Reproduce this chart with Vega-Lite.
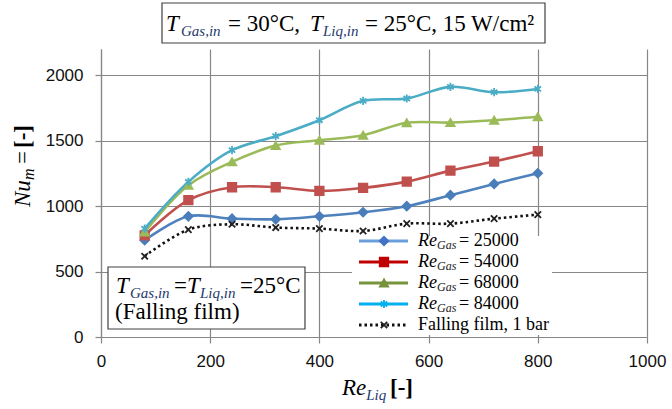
{
  "$schema": "https://vega.github.io/schema/vega-lite/v6.json",
  "width": 546,
  "height": 288,
  "autosize": {"type": "none"},
  "padding": {"left": 101, "top": 49, "right": 25, "bottom": 72},
  "background": "white",
  "config": {"view": {"stroke": null}, "text": {"font": "Liberation Serif"}},
  "datasets": {
    "series": [
      {"s": "a", "x": 80, "y": 739}, {"s": "a", "x": 160, "y": 922}, {"s": "a", "x": 240, "y": 904}, {"s": "a", "x": 320, "y": 899}, {"s": "a", "x": 400, "y": 922},
      {"s": "a", "x": 480, "y": 953}, {"s": "a", "x": 560, "y": 999}, {"s": "a", "x": 640, "y": 1083}, {"s": "a", "x": 720, "y": 1169}, {"s": "a", "x": 800, "y": 1251},
      {"s": "b", "x": 80, "y": 777}, {"s": "b", "x": 160, "y": 1045}, {"s": "b", "x": 240, "y": 1144}, {"s": "b", "x": 320, "y": 1144}, {"s": "b", "x": 400, "y": 1116},
      {"s": "b", "x": 480, "y": 1139}, {"s": "b", "x": 560, "y": 1187}, {"s": "b", "x": 640, "y": 1271}, {"s": "b", "x": 720, "y": 1340}, {"s": "b", "x": 800, "y": 1419},
      {"s": "c", "x": 80, "y": 803}, {"s": "c", "x": 160, "y": 1159}, {"s": "c", "x": 240, "y": 1338}, {"s": "c", "x": 320, "y": 1462}, {"s": "c", "x": 400, "y": 1503},
      {"s": "c", "x": 480, "y": 1541}, {"s": "c", "x": 560, "y": 1636}, {"s": "c", "x": 640, "y": 1638}, {"s": "c", "x": 720, "y": 1656}, {"s": "c", "x": 800, "y": 1682},
      {"s": "d", "x": 80, "y": 828}, {"s": "d", "x": 160, "y": 1185}, {"s": "d", "x": 240, "y": 1427}, {"s": "d", "x": 320, "y": 1534}, {"s": "d", "x": 400, "y": 1656},
      {"s": "d", "x": 480, "y": 1804}, {"s": "d", "x": 560, "y": 1822}, {"s": "d", "x": 640, "y": 1911}, {"s": "d", "x": 720, "y": 1870}, {"s": "d", "x": 800, "y": 1895},
      {"s": "f", "x": 80, "y": 617}, {"s": "f", "x": 160, "y": 820}, {"s": "f", "x": 240, "y": 861}, {"s": "f", "x": 320, "y": 836}, {"s": "f", "x": 400, "y": 828},
      {"s": "f", "x": 480, "y": 810}, {"s": "f", "x": 560, "y": 866}, {"s": "f", "x": 640, "y": 866}, {"s": "f", "x": 720, "y": 904}, {"s": "f", "x": 800, "y": 935}
    ],
    "boxes": [
      {"x": 111.7, "x2": 813.2, "y": 2246, "y2": 2551.5},
      {"x": 12.8, "x2": 373.6, "y": 61.1, "y2": 534.7}
    ],
    "legbg": [{"x": 459.7, "x2": 826, "y": 15, "y2": 771.6}],
    "legl": [
      {"s": "a", "x": 472.5, "x2": 562.3, "y": 733.3},
      {"s": "b", "x": 472.5, "x2": 562.3, "y": 572.9},
      {"s": "c", "x": 472.5, "x2": 562.3, "y": 412.5},
      {"s": "d", "x": 472.5, "x2": 562.3, "y": 252.1},
      {"s": "f", "x": 472.5, "x2": 562.3, "y": 91.7}
    ],
    "legm": [
      {"s": "a", "x": 518.3, "y": 733.3},
      {"s": "b", "x": 518.3, "y": 572.9},
      {"s": "c", "x": 518.3, "y": 412.5},
      {"s": "d", "x": 518.3, "y": 252.1},
      {"s": "f", "x": 518.3, "y": 91.7}
    ],
    "legit": [
      {"x": 580.6, "y": 733.3, "t": "Re"},
      {"x": 580.6, "y": 572.9, "t": "Re"},
      {"x": 580.6, "y": 412.5, "t": "Re"},
      {"x": 580.6, "y": 252.1, "t": "Re"}
    ],
    "legsub": [
      {"x": 615.4, "y": 702.7, "t": "Gas"},
      {"x": 615.4, "y": 542.3, "t": "Gas"},
      {"x": 615.4, "y": 381.9, "t": "Gas"},
      {"x": 615.4, "y": 221.5, "t": "Gas"}
    ],
    "legrm": [
      {"x": 655.7, "y": 733.3, "t": "= 25000"},
      {"x": 655.7, "y": 572.9, "t": "= 54000"},
      {"x": 655.7, "y": 412.5, "t": "= 68000"},
      {"x": 655.7, "y": 252.1, "t": "= 84000"},
      {"x": 580.6, "y": 91.7, "t": "Falling film, 1 bar"}
    ],
    "it23": [
      {"x": 119.0, "y": 2337.5, "t": "T"},
      {"x": 382.8, "y": 2337.5, "t": "T"},
      {"x": 27.5, "y": 336.1, "t": "T"},
      {"x": 157.5, "y": 336.1, "t": "T"},
      {"x": 441.4, "y": -443.1, "t": "Re"}
    ],
    "sub16": [
      {"x": 146.5, "y": 2299.3, "t": "Gas,in"},
      {"x": 406.6, "y": 2299.3, "t": "Liq,in"},
      {"x": 53.1, "y": 297.9, "t": "Gas,in"},
      {"x": 181.3, "y": 297.9, "t": "Liq,in"},
      {"x": 485.7, "y": -481.3, "t": "Liq"}
    ],
    "rm23": [
      {"x": 232.6, "y": 2337.5, "t": "= 30°C,"},
      {"x": 483.5, "y": 2337.5, "t": "= 25°C, 15 W/cm²"},
      {"x": 133.7, "y": 336.1, "t": "="},
      {"x": 254.6, "y": 336.1, "t": "=25°C"},
      {"x": 25.6, "y": 137.5, "t": "(Falling film)"}
    ],
    "bd23": [{"x": 529.3, "y": -443.1, "t": "[-]"}],
    "yit": [{"x": -129.9, "y": 993.1, "t": "Nu"}],
    "ysub": [{"x": -122.7, "y": 1199.3, "t": "m"}],
    "yrm": [{"x": -129.9, "y": 1321.5, "t": "="}],
    "ybd": [{"x": -129.9, "y": 1443.8, "t": "[-]"}]
  },
  "encoding": {
    "x": {
      "field": "x", "type": "quantitative",
      "scale": {"domain": [0, 1000], "nice": false, "zero": false},
      "axis": {
        "title": null, "values": [0, 200, 400, 600, 800, 1000], "format": "d",
        "grid": true, "gridColor": "#878787", "gridWidth": 1.2,
        "domainColor": "#878787", "domainWidth": 1.2,
        "tickColor": "#878787", "tickWidth": 1.2, "tickSize": 6,
        "labelFont": "Liberation Sans", "labelFontSize": 17, "labelColor": "#111111",
        "labelPadding": 10, "labelFlush": false
      }
    },
    "y": {
      "field": "y", "type": "quantitative",
      "scale": {"domain": [0, 2200], "nice": false, "zero": false},
      "axis": {
        "title": null, "values": [0, 500, 1000, 1500, 2000], "format": "d",
        "grid": true, "gridColor": "#878787", "gridWidth": 1.2,
        "domainColor": "#878787", "domainWidth": 1.2,
        "tickColor": "#878787", "tickWidth": 1.2, "tickSize": 6,
        "labelFont": "Liberation Sans", "labelFontSize": 17, "labelColor": "#111111",
        "labelPadding": 12, "labelFlush": false
      }
    }
  },
  "layer": [
    {
      "data": {"name": "legbg"},
      "mark": {"type": "rect", "fill": "white", "stroke": null},
      "encoding": {"x2": {"field": "x2"}, "y2": {"field": "y2"}}
    },
    {
      "data": {"name": "boxes"},
      "mark": {"type": "rect", "fill": "white", "stroke": "#404040", "strokeWidth": 1.2},
      "encoding": {"x2": {"field": "x2"}, "y2": {"field": "y2"}}
    },
    {
      "data": {"name": "series"},
      "transform": [{"filter": "datum.s != 'f'"}],
      "mark": {"type": "line", "interpolate": "catmull-rom", "strokeWidth": 2.6},
      "encoding": {
        "color": {"field": "s", "type": "nominal", "legend": null,
          "scale": {"domain": ["a", "b", "c", "d"], "range": ["#4F81BD", "#C0504D", "#9BBB59", "#4BACC6"]}}
      }
    },
    {
      "data": {"name": "series"},
      "transform": [{"filter": "datum.s == 'f'"}],
      "mark": {"type": "line", "interpolate": "catmull-rom", "strokeWidth": 2.6, "strokeDash": [2.5, 3], "color": "#111111"},
      "encoding": {}
    },
    {
      "data": {"name": "series"},
      "mark": {"type": "point", "filled": true, "strokeWidth": 1.8, "opacity": 1},
      "encoding": {
        "fill": {"field": "s", "type": "nominal", "legend": null,
          "scale": {"domain": ["a", "b", "c", "d", "f"], "range": ["#4A7EBB", "#C0504D", "#9BBB59", "#4BACC6", "#222222"]}},
        "stroke": {"field": "s", "type": "nominal", "legend": null,
          "scale": {"domain": ["a", "b", "c", "d", "f"], "range": ["#4A7EBB", "#C0504D", "#9BBB59", "#4BACC6", "#222222"]}},
        "shape": {"field": "s", "type": "nominal", "legend": null,
          "scale": {"domain": ["a", "b", "c", "d", "f"], "range": ["diamond", "square", "triangle-up", "M0,-1L0,1M-0.8,-0.6L0.8,0.6M-0.8,0.6L0.8,-0.6", "M-0.8,-0.8L0.8,0.8M-0.8,0.8L0.8,-0.8"]}},
        "size": {"field": "s", "type": "nominal", "legend": null,
          "scale": {"domain": ["a", "b", "c", "d", "f"], "range": [75, 64, 90, 150, 100]}}
      }
    },
    {
      "data": {"name": "legl"},
      "transform": [{"filter": "datum.s != 'f'"}],
      "mark": {"type": "rule", "strokeWidth": 3},
      "encoding": {
        "x2": {"field": "x2"},
        "color": {"field": "s", "type": "nominal", "legend": null,
          "scale": {"domain": ["a", "b", "c", "d"], "range": ["#6A9FDC", "#C00000", "#77933C", "#00B0F0"]}}
      }
    },
    {
      "data": {"name": "legl"},
      "transform": [{"filter": "datum.s == 'f'"}],
      "mark": {"type": "rule", "strokeWidth": 3, "strokeDash": [2.5, 3], "color": "#111111"},
      "encoding": {"x2": {"field": "x2"}}
    },
    {
      "data": {"name": "legm"},
      "mark": {"type": "point", "filled": true, "strokeWidth": 1.8, "opacity": 1},
      "encoding": {
        "fill": {"field": "s", "type": "nominal", "legend": null,
          "scale": {"domain": ["a", "b", "c", "d", "f"], "range": ["#4472C4", "#C00000", "#77933C", "#00B0F0", "#222222"]}},
        "stroke": {"field": "s", "type": "nominal", "legend": null,
          "scale": {"domain": ["a", "b", "c", "d", "f"], "range": ["#4472C4", "#C00000", "#77933C", "#00B0F0", "#222222"]}},
        "shape": {"field": "s", "type": "nominal", "legend": null,
          "scale": {"domain": ["a", "b", "c", "d", "f"], "range": ["diamond", "square", "triangle-up", "M0,-1L0,1M-0.8,-0.6L0.8,0.6M-0.8,0.6L0.8,-0.6", "M-0.8,-0.8L0.8,0.8M-0.8,0.8L0.8,-0.8"]}},
        "size": {"field": "s", "type": "nominal", "legend": null,
          "scale": {"domain": ["a", "b", "c", "d", "f"], "range": [75, 64, 90, 150, 100]}}
      }
    },
    {
      "data": {"name": "legit"},
      "mark": {"type": "text", "font": "Liberation Serif", "fontSize": 18, "fontStyle": "italic", "align": "left", "baseline": "middle", "color": "#000000"},
      "encoding": {"text": {"field": "t"}}
    },
    {
      "data": {"name": "legsub"},
      "mark": {"type": "text", "font": "Liberation Serif", "fontSize": 12, "fontStyle": "italic", "align": "left", "baseline": "middle", "color": "#222222"},
      "encoding": {"text": {"field": "t"}}
    },
    {
      "data": {"name": "legrm"},
      "mark": {"type": "text", "font": "Liberation Serif", "fontSize": 18, "align": "left", "baseline": "middle", "color": "#000000"},
      "encoding": {"text": {"field": "t"}}
    },
    {
      "data": {"name": "it23"},
      "mark": {"type": "text", "font": "Liberation Serif", "fontSize": 23, "fontStyle": "italic", "align": "left", "baseline": "alphabetic", "color": "#000000"},
      "encoding": {"text": {"field": "t"}}
    },
    {
      "data": {"name": "sub16"},
      "mark": {"type": "text", "font": "Liberation Serif", "fontSize": 15, "fontStyle": "italic", "align": "left", "baseline": "alphabetic", "color": "#1F3A6E"},
      "encoding": {"text": {"field": "t"}}
    },
    {
      "data": {"name": "rm23"},
      "mark": {"type": "text", "font": "Liberation Serif", "fontSize": 23, "align": "left", "baseline": "alphabetic", "color": "#000000"},
      "encoding": {"text": {"field": "t"}}
    },
    {
      "data": {"name": "bd23"},
      "mark": {"type": "text", "font": "Liberation Serif", "fontSize": 23, "fontWeight": "bold", "align": "left", "baseline": "alphabetic", "color": "#000000"},
      "encoding": {"text": {"field": "t"}}
    },
    {
      "data": {"name": "yit"},
      "mark": {"type": "text", "font": "Liberation Serif", "fontSize": 23, "fontStyle": "italic", "angle": 270, "align": "left", "baseline": "alphabetic", "color": "#000000"},
      "encoding": {"text": {"field": "t"}}
    },
    {
      "data": {"name": "ysub"},
      "mark": {"type": "text", "font": "Liberation Serif", "fontSize": 16, "fontStyle": "italic", "angle": 270, "align": "left", "baseline": "alphabetic", "color": "#000000"},
      "encoding": {"text": {"field": "t"}}
    },
    {
      "data": {"name": "yrm"},
      "mark": {"type": "text", "font": "Liberation Serif", "fontSize": 23, "angle": 270, "align": "left", "baseline": "alphabetic", "color": "#000000"},
      "encoding": {"text": {"field": "t"}}
    },
    {
      "data": {"name": "ybd"},
      "mark": {"type": "text", "font": "Liberation Serif", "fontSize": 23, "fontWeight": "bold", "angle": 270, "align": "left", "baseline": "alphabetic", "color": "#000000"},
      "encoding": {"text": {"field": "t"}}
    }
  ],
  "resolve": {"scale": {"color": "independent", "fill": "independent", "stroke": "independent", "shape": "independent", "size": "independent"}}
}
